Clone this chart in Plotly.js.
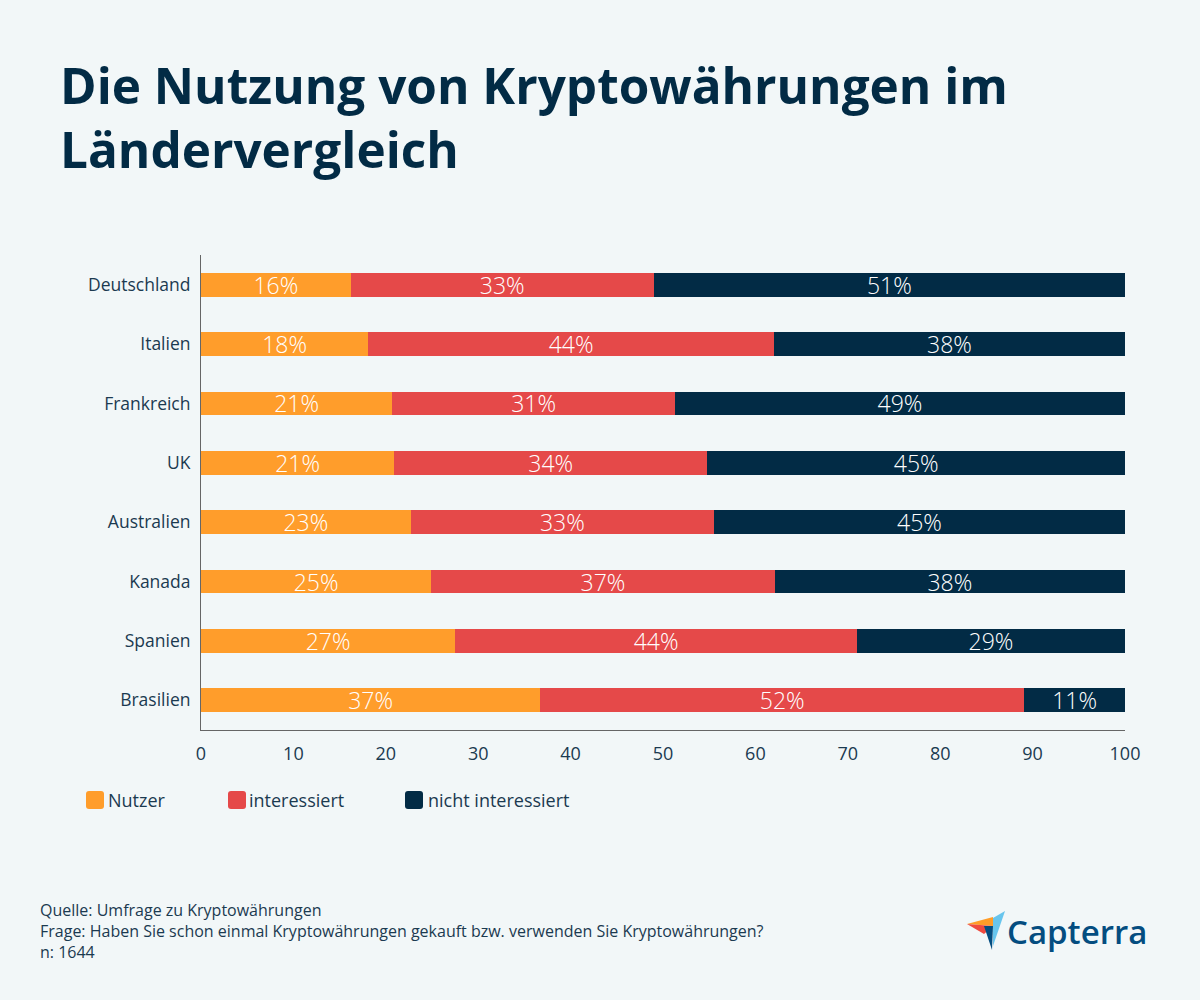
<!DOCTYPE html>
<html>
<head>
<meta charset="utf-8">
<script src="https://cdn.plot.ly/plotly-3.0.1.min.js"></script>
<style>
  html, body { margin: 0; padding: 0; background: #f2f7f8; }
  #chart { width: 1200px; height: 1000px; }
</style>
</head>
<body>
<div id="chart"></div>
<script>
// ---- Data ----
const countries = ["Deutschland", "Italien", "Frankreich", "UK", "Australien", "Kanada", "Spanien", "Brasilien"];
const seriesNames = ["Nutzer", "interessiert", "nicht interessiert"];
const nutzer = [16.2, 18.1, 20.7, 20.9, 22.7, 24.9, 27.5, 36.7];
const interessiert = [32.8, 43.9, 30.6, 33.9, 32.8, 37.2, 43.5, 52.4];
const nichtInteressiert = [51.0, 38.0, 48.7, 45.2, 44.5, 37.9, 29.0, 10.9];
const nutzerLabels = [16, 18, 21, 21, 23, 25, 27, 37];
const interessiertLabels = [33, 44, 31, 34, 33, 37, 44, 52];
const nichtLabels = [51, 38, 49, 45, 45, 38, 29, 11];
const xTicks = [0, 10, 20, 30, 40, 50, 60, 70, 80, 90, 100];
const footerLines = [
  "Quelle: Umfrage zu Kryptowährungen",
  "Frage: Haben Sie schon einmal Kryptowährungen gekauft bzw. verwenden Sie Kryptowährungen?",
  "n: 1644"
];
const titleText = "Die Nutzung von Kryptowährungen im<br>Ländervergleich";

// ---- Styles ----
const colors = ["#ff9d2b", "#e54949", "#022b45"];
const navy = "#022b45";
const textColor = "#1b3a50";
const bg = "#f2f7f8";
const FONT = "Open Sans, sans-serif";

// plot area in pixels
const L = 201, R = 1125, T = 255, B = 730;
const px = x => (x - L) / (R - L);
const py = y => (B - y) / (B - T);

const valueSets = [nutzer, interessiert, nichtInteressiert];
const labelSets = [nutzerLabels, interessiertLabels, nichtLabels];

const traces = valueSets.map((vals, i) => ({
  type: "bar",
  orientation: "h",
  name: seriesNames[i],
  y: countries,
  x: vals,
  text: labelSets[i].map(v => v + "%"),
  textposition: "inside",
  insidetextanchor: "middle",
  constraintext: "none",
  textangle: 0,
  textfont: { family: FONT, size: 23, color: "#ffffff", weight: 300 },
  marker: { color: colors[i], line: { width: 0 } },
  hoverinfo: "skip",
  showlegend: false
}));

// custom legend
function roundedSquare(x0, y0, size, r) {
  const x1 = x0 + size, y1 = y0 + size;
  const X = v => px(v), Y = v => py(v);
  return `M ${X(x0 + r)} ${Y(y0)} L ${X(x1 - r)} ${Y(y0)} Q ${X(x1)} ${Y(y0)} ${X(x1)} ${Y(y0 + r)} ` +
         `L ${X(x1)} ${Y(y1 - r)} Q ${X(x1)} ${Y(y1)} ${X(x1 - r)} ${Y(y1)} ` +
         `L ${X(x0 + r)} ${Y(y1)} Q ${X(x0)} ${Y(y1)} ${X(x0)} ${Y(y1 - r)} ` +
         `L ${X(x0)} ${Y(y0 + r)} Q ${X(x0)} ${Y(y0)} ${X(x0 + r)} ${Y(y0)} Z`;
}
const legendSquareX = [86, 228, 405];
const legendTextX = [106, 247, 426];
const legendY = 800;

const shapes = [];
const annotations = [];
seriesNames.forEach((n, i) => {
  shapes.push({
    type: "path", xref: "paper", yref: "paper",
    path: roundedSquare(legendSquareX[i], legendY - 9, 18, 3),
    fillcolor: colors[i], line: { width: 0 }
  });
  annotations.push({
    xref: "paper", yref: "paper", x: px(legendTextX[i]), y: py(legendY),
    xanchor: "left", yanchor: "middle", showarrow: false, text: n,
    font: { family: FONT, size: 18, color: textColor }
  });
});

// footer (one multi-line text block)
annotations.push({
  xref: "paper", yref: "paper", x: px(38), y: py(931),
  xanchor: "left", yanchor: "middle", align: "left", showarrow: false,
  text: footerLines.join("<br>"),
  font: { family: FONT, size: 16, color: textColor }
});

// Capterra logo
function tri(pts, color) {
  const p = pts.map((q, k) => (k === 0 ? "M " : "L ") + px(q[0]) + " " + py(q[1])).join(" ") + " Z";
  shapes.push({ type: "path", xref: "paper", yref: "paper", path: p, fillcolor: color, line: { width: 0 } });
}
tri([[993, 918], [1005, 911], [993, 946]], "#68c5ed");
tri([[967, 924], [993, 917], [993, 926]], "#ff9d28");
tri([[967, 924], [993, 926], [984, 934]], "#ef4a3f");
tri([[984, 926], [993, 926], [992, 950]], "#044d80");
annotations.push({
  xref: "paper", yref: "paper", x: px(1005), y: py(931),
  xanchor: "left", yanchor: "middle", showarrow: false, text: "Capterra",
  font: { family: FONT, size: 33, color: "#044d80", weight: 600 }
});

const layout = {
  width: 1200, height: 1000,
  paper_bgcolor: bg, plot_bgcolor: bg,
  margin: { l: L, r: 1200 - R, t: T, b: 1000 - B, pad: 0 },
  title: {
    text: titleText,
    x: 60 / 1200, xref: "container", xanchor: "left",
    y: 1 - 104 / 1000, yref: "container", yanchor: "top",
    font: { family: FONT, size: 49.5, color: navy, weight: 700 }
  },
  barmode: "stack",
  bargap: 0.6,
  showlegend: false,
  xaxis: {
    range: [0, 100],
    tickvals: xTicks,
    ticktext: xTicks.map(String),
    showgrid: false, zeroline: false,
    showline: true, linecolor: "#666666", linewidth: 1,
    ticks: "",
    ticklabelstandoff: 7,
    tickfont: { family: FONT, size: 18, color: textColor },
    fixedrange: true
  },
  yaxis: {
    autorange: "reversed",
    showgrid: false, zeroline: false,
    showline: true, linecolor: "#666666", linewidth: 1,
    ticks: "",
    ticklabelstandoff: 6,
    tickfont: { family: FONT, size: 17.5, color: textColor },
    fixedrange: true
  },
  shapes: shapes,
  annotations: annotations,
  uniformtext: { mode: false }
};

Plotly.newPlot("chart", traces, layout, { staticPlot: true, displayModeBar: false });
</script>
</body>
</html>
